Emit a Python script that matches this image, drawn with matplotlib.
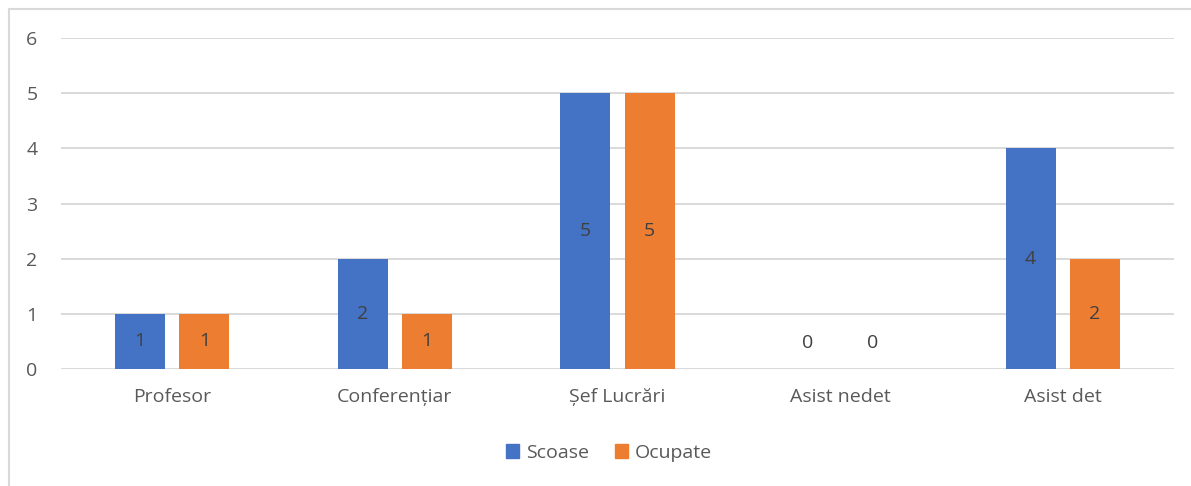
import numpy as np
import matplotlib.pyplot as plt
from matplotlib.lines import Line2D
from matplotlib.patches import Patch

categories = ['Profesor', 'Conferențiar', 'Șef Lucrări', 'Asist nedet', 'Asist det']
scoase = [1, 2, 5, 0, 4]
ocupate = [1, 1, 5, 0, 2]
series_names = ['Scoase', 'Ocupate']
colors = ['#4472C4', '#ED7D31']

plt.rcParams['font.family'] = ['Open Sans', 'DejaVu Sans']

fig = plt.figure(figsize=(11.91, 4.86), dpi=100)
ax = fig.add_axes([61 / 1191, 1 - 369 / 486, (1174 - 61) / 1191, (369 - 38) / 486])

x = np.arange(len(categories))
w = 0.225
off = 0.144
for vals, name, col, sign in zip([scoase, ocupate], series_names, colors, [-1, 1]):
    ax.bar(x + sign * off, vals, width=w, color=col, label=name, zorder=3)
    for xi, v in zip(x + sign * off, vals):
        ypos = v / 2 if v > 0 else 0.48
        ax.text(xi, ypos, str(v), ha='center', va='center', fontsize=14, color='#404040', zorder=4)

ax.set_xlim(-0.5, len(categories) - 0.5)
ax.set_ylim(0, 6)
ax.set_yticks(range(0, 7))
ax.set_xticks(x)
ax.set_xticklabels(categories)
ax.yaxis.grid(True, color='#D9D9D9', lw=1.4, zorder=0)
for s in ax.spines.values():
    s.set_visible(False)
ax.tick_params(axis='both', length=0, labelsize=14, labelcolor='#595959')
ax.tick_params(axis='y', pad=17)
ax.tick_params(axis='x', pad=14)

handles = [Patch(color=c, label=n) for c, n in zip(colors, series_names)]
fig.legend(handles=handles, loc='center', bbox_to_anchor=(609 / 1191, 1 - 453 / 486), ncol=2,
           frameon=False, fontsize=14, labelcolor='#595959', handlelength=0.7, handleheight=0.7,
           handletextpad=0.35, columnspacing=1.3)

# chart border
fig.add_artist(Line2D([9 / 1191, 1], [1 - 9 / 486, 1 - 9 / 486], color='#D9D9D9', lw=1.5))
fig.add_artist(Line2D([9 / 1191, 9 / 1191], [0, 1 - 9 / 486], color='#D9D9D9', lw=1.5))

fig.savefig('out.png', dpi=100)
